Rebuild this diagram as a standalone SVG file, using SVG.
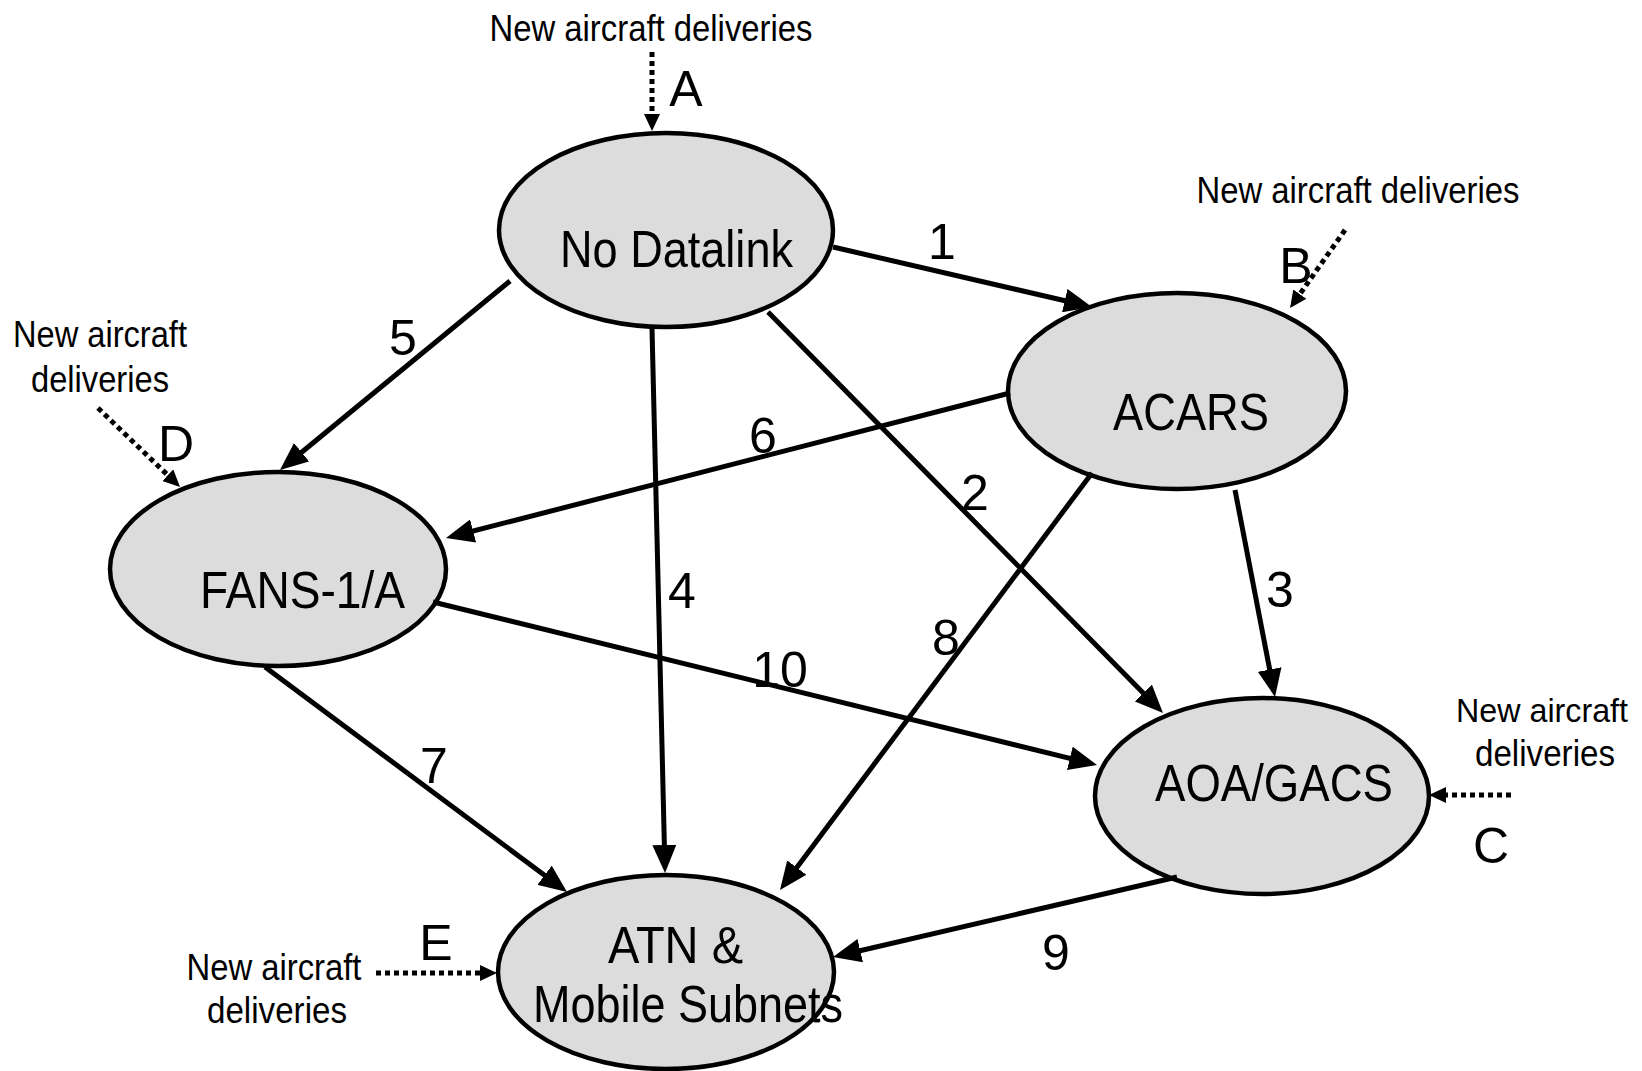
<svg xmlns="http://www.w3.org/2000/svg" width="1642" height="1071" viewBox="0 0 1642 1071">
<style>
.node ellipse{fill:#dcdcdc;stroke:#000;stroke-width:4.5}
.nl{font-family:"Liberation Sans",Arial,sans-serif;font-size:52px;fill:#000}
.lbl{font-family:"Liberation Sans",Arial,sans-serif;font-size:50px;fill:#000;text-anchor:middle}
.src{font-family:"Liberation Sans",Arial,sans-serif;font-size:37px;fill:#000;text-anchor:middle}
.edge{fill:none;stroke:#000;stroke-width:5;marker-end:url(#ah)}
.dot{fill:none;stroke:#000;stroke-width:5;stroke-dasharray:5 4;marker-end:url(#ahs)}
</style>
<defs>
<marker id="ah" markerUnits="userSpaceOnUse" markerWidth="28" markerHeight="24" refX="18" refY="12" orient="auto" viewBox="0 0 28 24"><path d="M0,0 L28,12 L0,24 z" fill="#000"/></marker>
<marker id="ahs" markerUnits="userSpaceOnUse" markerWidth="17" markerHeight="16" refX="11" refY="8" orient="auto" viewBox="0 0 17 16"><path d="M0,0 L17,8 L0,16 z" fill="#000"/></marker>
</defs>
<rect width="1642" height="1071" fill="#fff"/>

<g id="node-nodatalink" class="node">
<ellipse cx="666" cy="230" rx="167" ry="97"/>
<text class="nl" x="560" y="267" textLength="233" lengthAdjust="spacingAndGlyphs">No Datalink</text>
</g>
<g id="node-acars" class="node">
<ellipse cx="1177" cy="391" rx="169" ry="98"/>
<text class="nl" x="1113" y="430" textLength="156" lengthAdjust="spacingAndGlyphs">ACARS</text>
</g>
<g id="node-fans" class="node">
<ellipse cx="278" cy="569" rx="168" ry="97"/>
<text class="nl" x="200" y="608" textLength="205" lengthAdjust="spacingAndGlyphs">FANS-1/A</text>
</g>
<g id="node-aoagacs" class="node">
<ellipse cx="1262" cy="796" rx="167" ry="98"/>
<text class="nl" x="1155" y="801" textLength="238" lengthAdjust="spacingAndGlyphs">AOA/GACS</text>
</g>
<g id="node-atn" class="node">
<ellipse cx="666" cy="972" rx="168" ry="97"/>
<text class="nl" x="608" y="963" textLength="135" lengthAdjust="spacingAndGlyphs">ATN &amp;</text>
<text class="nl" x="533" y="1022" textLength="310" lengthAdjust="spacingAndGlyphs">Mobile Subnets</text>
</g>

<g id="connectors">
<path class="edge" d="M833,247 L1082.3,304.7"/>
<path class="edge" d="M768,312 L1156,705.9"/>
<path class="edge" d="M1235,490 L1273.1,687.2"/>
<path class="edge" d="M652,328 L664.8,863"/>
<path class="edge" d="M510,281 L287.7,463.7"/>
<path class="edge" d="M1010,393 L455.7,535.5"/>
<path class="edge" d="M265,667 L559,886"/>
<path class="edge" d="M1092,473 L786,882"/>
<path class="edge" d="M1177,877 L842.7,954.7"/>
<path class="edge" d="M433,602 L1087.3,762.6"/>

<path class="dot" d="M652,52 L652,125"/>
<path class="dot" d="M1345,230 L1293.5,303.1"/>
<path class="dot" d="M1511,795 L1435,795"/>
<path class="dot" d="M98,408 L175.7,482.8"/>
<path class="dot" d="M376,973 L491,973"/>

<text class="lbl" x="942" y="259">1</text>
<text class="lbl" x="975" y="510">2</text>
<text class="lbl" x="1280" y="607">3</text>
<text class="lbl" x="682" y="608">4</text>
<text class="lbl" x="403" y="355">5</text>
<text class="lbl" x="763" y="453">6</text>
<text class="lbl" x="434" y="783">7</text>
<text class="lbl" x="946" y="655">8</text>
<text class="lbl" x="1056" y="970">9</text>
<text class="lbl" x="780" y="687">10</text>

<text class="lbl" x="686" y="106">A</text>
<text class="lbl" x="1296" y="283">B</text>
<text class="lbl" x="1491" y="863">C</text>
<text class="lbl" x="176" y="461">D</text>
<text class="lbl" x="436" y="960">E</text>

<text class="src" x="651" y="41" textLength="323" lengthAdjust="spacingAndGlyphs">New aircraft deliveries</text>
<text class="src" x="1358" y="203" textLength="323" lengthAdjust="spacingAndGlyphs">New aircraft deliveries</text>
<text class="src" x="1542" y="722" style="font-size:34px" textLength="172" lengthAdjust="spacingAndGlyphs">New aircraft</text>
<text class="src" x="1545" y="766" textLength="140" lengthAdjust="spacingAndGlyphs">deliveries</text>
<text class="src" x="100" y="347" textLength="174" lengthAdjust="spacingAndGlyphs">New aircraft</text>
<text class="src" x="100" y="392" textLength="138" lengthAdjust="spacingAndGlyphs">deliveries</text>
<text class="src" x="274" y="980" textLength="175" lengthAdjust="spacingAndGlyphs">New aircraft</text>
<text class="src" x="277" y="1023" textLength="140" lengthAdjust="spacingAndGlyphs">deliveries</text>
</g>
</svg>
